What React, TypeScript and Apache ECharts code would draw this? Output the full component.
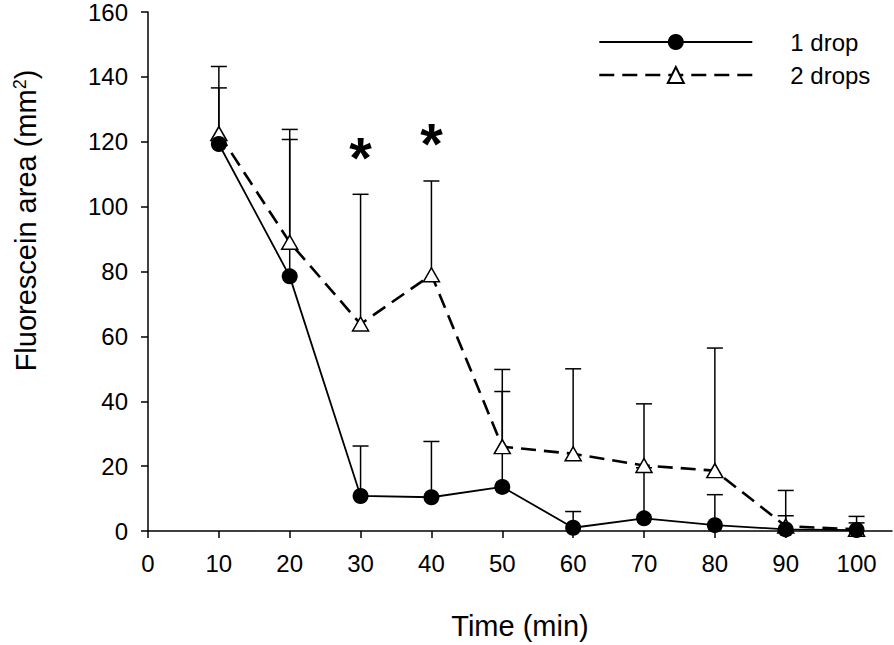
import React, { useEffect, useRef } from "react";
import * as echarts from "echarts";

const times = [10, 20, 30, 40, 50, 60, 70, 80, 90, 100];
const oneDrop = [119.3, 78.5, 10.8, 10.4, 13.6, 1.0, 3.9, 1.8, 0.5, 0.3];
const oneDropUpper = [136.6, 120.7, 26.2, 27.6, 43.0, 6.0, 19.5, 11.2, 4.7, 2.5];
const twoDrops = [122.5, 89.0, 63.8, 79.0, 26.0, 23.8, 20.2, 18.6, 1.5, 0.5];
const twoDropsUpper = [143.2, 123.8, 103.8, 107.9, 49.8, 50.0, 39.2, 56.4, 12.5, 4.5];
const starTimes = [30, 40];
const starLevels = [115.2, 119.5];
const xTicks = [0, 10, 20, 30, 40, 50, 60, 70, 80, 90, 100];
const seriesNames = ["1 drop", "2 drops"];

const FONT = "Liberation Sans, Arial, Helvetica, sans-serif";

export default function App() {
  const ref = useRef<HTMLDivElement>(null);
  useEffect(() => {
    if (!ref.current) return;
    const chart = echarts.init(ref.current, null, { renderer: "svg" });
    const errData = (vals: number[], ups: number[]) =>
      times.map((t, i) => [t, vals[i], ups[i]]);
    const errSeries = (name: string, vals: number[], ups: number[]) => ({
      type: "custom",
      name: name + " err",
      silent: true,
      z: 1,
      data: errData(vals, ups),
      renderItem: (_p: any, api: any) => {
        const x = api.value(0);
        const y = api.value(1);
        const hi = api.value(2);
        const p0 = api.coord([x, y]);
        const p1 = api.coord([x, hi]);
        const st = { stroke: "#000", lineWidth: 1.5 };
        return {
          type: "group",
          children: [
            { type: "line", shape: { x1: p0[0], y1: p0[1], x2: p1[0], y2: p1[1] }, style: st },
            { type: "line", shape: { x1: p1[0] - 8, y1: p1[1], x2: p1[0] + 8, y2: p1[1] }, style: st },
          ],
        };
      },
    });
    const axisCommon = {
      axisLine: { show: true, lineStyle: { color: "#000", width: 1.5 } },
      axisTick: { show: true, inside: false, length: 7, lineStyle: { color: "#000", width: 1.5 } },
      axisLabel: { color: "#000", fontSize: 24, fontFamily: FONT, margin: 20 },
      splitLine: { show: false },
      nameTextStyle: { color: "#000", fontSize: 29, fontFamily: FONT },
    };
    chart.setOption({
      animation: false,
      backgroundColor: "#fff",
      textStyle: { fontFamily: FONT },
      grid: { left: 148, top: 12, right: 2, bottom: 112, containLabel: false },
      legend: {
        data: [
          { name: seriesNames[0], lineStyle: { width: 1.8 } },
          { name: seriesNames[1], lineStyle: { width: 2.6 } },
        ],
        orient: "vertical",
        left: 593,
        top: 25,
        padding: 5,
        itemWidth: 153,
        itemHeight: 20,
        itemGap: 9,
        textStyle: { color: "#000", fontSize: 24, fontFamily: FONT, padding: [0, 0, 0, 33] },
      },
      xAxis: {
        ...axisCommon,
        type: "value",
        min: 0,
        max: 105,
        interval: 10,
        name: "Time (min)",
        nameLocation: "middle",
        nameGap: 80,
        axisTick: { ...axisCommon.axisTick, customValues: xTicks },
        axisLabel: { ...axisCommon.axisLabel, customValues: xTicks },
      },
      yAxis: {
        ...axisCommon,
        type: "value",
        min: 0,
        max: 160,
        interval: 20,
        name: "{a|Fluorescein area (mm}{s|2}{a|)}",
        nameLocation: "middle",
        nameGap: 108,
        nameTextStyle: {
          color: "#000",
          fontFamily: FONT,
          padding: [0, 0, 0, 102],
          rich: {
            a: { fontSize: 29, fontFamily: FONT, color: "#000", verticalAlign: "bottom" },
            s: { fontSize: 18, fontFamily: FONT, color: "#000", verticalAlign: "top" },
          },
        },
      },
      series: [
        errSeries("two", twoDrops, twoDropsUpper),
        errSeries("one", oneDrop, oneDropUpper),
        {
          type: "line",
          name: seriesNames[1],
          z: 3,
          data: times.map((t, i) => [t, twoDrops[i]]),
          symbol: "triangle",
          symbolSize: [16, 14],
          lineStyle: { color: "#000", width: 2.6, type: [15, 8] },
          itemStyle: { color: "#fff", borderColor: "#000", borderWidth: 1.5 },
        },
        {
          type: "line",
          name: seriesNames[0],
          z: 4,
          data: times.map((t, i) => [t, oneDrop[i]]),
          symbol: "circle",
          symbolSize: 16,
          lineStyle: { color: "#000", width: 1.8 },
          itemStyle: { color: "#000", borderColor: "#000", borderWidth: 0 },
        },
        {
          type: "scatter",
          name: "sig",
          z: 5,
          silent: true,
          symbolSize: 0,
          itemStyle: { color: "#000", opacity: 1 },
          data: starTimes.map((t, i) => [t, starLevels[i]]),
          label: {
            show: true,
            position: "inside",
            formatter: "*",
            fontSize: 58,
            fontWeight: "bold",
            fontFamily: FONT,
            color: "#000",
            opacity: 1,
            textBorderWidth: 0,
          },
        },
      ],
    });
    return () => chart.dispose();
  }, []);
  return (
    <div
      ref={ref}
      style={{ position: "fixed", left: 0, top: 0, width: 894, height: 645, background: "#fff" }}
    />
  );
}
